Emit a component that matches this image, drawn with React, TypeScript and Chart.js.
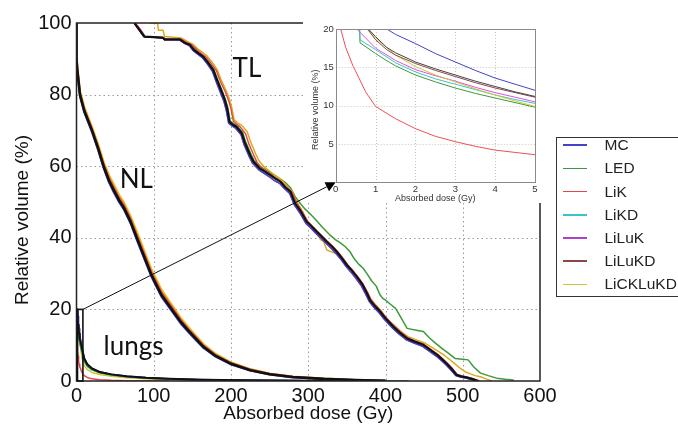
import React, { useEffect, useRef } from "react";
import { Chart, registerables } from "chart.js";
Chart.register(...registerables);

type P = [number, number];

// ---------- axes ----------
const X_TICKS = [0, 100, 200, 300, 400, 500, 600];
const Y_TICKS = [0, 20, 40, 60, 80, 100];
const INSET_X_TICKS = [0, 1, 2, 3, 4, 5];
const INSET_Y_TICKS = [5, 10, 15, 20];
const ZOOM_BOX: P = [7, 20]; // zoomed region: 0..7 Gy, 0..20 %

// ---------- legend ----------
const METHODS = ["MC", "LED", "LiK", "LiKD", "LiLuK", "LiLuKD", "LiCKLuKD"];
const COLORS = ["#4343c8", "#3c9a3c", "#e04848", "#3cc4c4", "#b040c8", "#8c4848", "#cfc63a"];
const REF_COLOR = "#111111";
const TL_GOLD = "#e0a81c";

// ---------- TL (tumour) ----------
const TL_REF: P[] = [[75,100],[80,98.5],[88,96.2],[112,95.9],[114,95.4],[134,95.4],[140,94.5],[147,93.9],[152,92.5],[158,91.5],[164,90.6],[170,89],[177,86.9],[182,84],[188,80.8],[192,78.5],[195,76.2],[198,72.4],[203,71.5],[207,71],[214,69.2],[218,66.5],[221,65],[225,63],[229,61.3],[237,59.4],[244,58.5],[251,57.5],[257,56.6],[264,55.7],[270,54.2],[277,52.9],[283,49.6],[290,47.5],[298,44.5],[304,43.3],[311,41.7],[318,40.2],[324,38.9],[331,37.5],[337,36.1],[344,34.2],[350,32.4],[357,30.7],[363,29.1],[370,27],[376,24.5],[380,22.6],[386,21],[393,19.4],[400,17.5],[410,15.2],[418,13.6],[428,11.9],[438,11],[449,10.1],[458,8.7],[467,7.3],[473,6.1],[479,4.9],[486,3.3],[492,1.7],[498,1.3],[505,1],[512,0.6],[520,0]];
const TL_MC: P[] = [[75,100],[80,98.4],[87,96.2],[112,95.8],[114,95.3],[133,95.3],[140,94.3],[146,93.7],[151,92.3],[157,91.3],[163,90.3],[169,88.7],[176,86.5],[181,83.5],[187,80.2],[191,78],[194,75.5],[197,72],[202,71.2],[206,70.6],[213,68.8],[217,66],[220,64.5],[224,62.5],[228,60.8],[236,59],[243,58],[250,57],[256,56],[263,55.2],[269,53.8],[276,52.4],[282,49.2],[289,47],[297,44],[303,42.8],[310,41.2],[317,39.8],[323,38.5],[330,37],[336,35.6],[343,33.8],[349,32],[356,30.2],[362,28.6],[369,26.5],[375,24],[379,22.2],[385,20.6],[392,19],[399,17.1],[409,14.8],[417,13.2],[427,11.5],[437,10.6],[448,9.7],[457,8.3],[466,6.9],[472,5.8],[478,4.6],[485,3],[491,1.5],[497,1.1],[504,0.8],[511,0.4],[518,0]];
const TL_LIK: P[] = [[76,100],[82,98.5],[89,96.2],[113,95.9],[115,95.4],[136,95.4],[143,94.5],[150,93.8],[156,92.5],[162,91.4],[168,90.4],[174,88.8],[181,86.7],[186,83.8],[193,80.6],[197,78.3],[200,76],[203,72.6],[208,71.6],[212,71],[219,69],[223,66.3],[226,64.8],[230,62.8],[234,61],[241,59.2],[248,58.2],[254,57.3],[260,56.4],[266,55.5],[272,54],[279,52.7],[285,49.8],[292,47.4],[299,44.7],[305,43.3],[312,41.8],[319,40.3],[325,39],[332,37.6],[338,36.2],[345,34.3],[351,32.5],[358,30.8],[364,29.2],[371,27.1],[377,24.7],[381,22.8],[387,21.2],[394,19.6],[401,17.7],[411,15.4],[419,13.8],[429,12.1],[439,11.1],[450,10.2],[459,8.8],[468,7.4],[474,6.2],[480,5],[487,3.4],[493,1.8],[499,1.4],[506,1.1],[514,0.6],[522,0]];
const TL_LICKLUKD: P[] = [[95,100],[105,100],[106,98],[112,98],[114,96.2],[136,95.8],[144,94.8],[151,94],[157,92.8],[163,91.8],[169,90.8],[175,89.2],[182,87],[187,84.2],[194,81],[198,78.7],[201,76.4],[204,73],[209,72],[214,71.4],[221,69.6],[225,67],[228,65.5],[232,63.4],[236,61.6],[243,59.8],[249,58.8],[255,57.8],[261,56.9],[267,55.9],[273,54.3],[279,53],[285,50],[292,47.6],[299,44.6],[305,43],[311,41.2],[316,39.5],[320,38.9],[324,36.6],[331,36],[338,35.4],[344,34],[350,32.6],[357,30.8],[363,29.2],[370,27],[376,24.7],[381,22.9],[387,21.3],[394,19.7],[401,17.4],[411,15.6],[419,14],[429,12.4],[440,11.5],[451,10.6],[460,9.4],[469,8.2],[476,7.2],[483,6],[490,4.8],[497,3.5],[503,2.6],[510,2],[516,1.5],[523,1.2],[530,0.6],[538,0]];
const TL_LED: P[] = [[75,100],[80,98.5],[88,96.2],[112,95.9],[114,95.4],[134,95.4],[140,94.3],[147,93.6],[153,92.8],[159,91.6],[165,90.6],[171,89],[178,86.9],[183,84],[189,80.8],[193,78.5],[196,76.2],[199,72.6],[204,71.8],[208,71.2],[215,69.5],[219,66.8],[222,65.3],[226,63.3],[230,61.6],[238,59.8],[245,59],[252,58],[258,57.2],[264,56.4],[270,55.5],[277,54],[283,51.5],[290,49.5],[296,48],[302,46.8],[310,45],[318,43],[328,40.8],[335,39.5],[342,38.5],[348,37.5],[354,36.1],[360,34],[366,32.5],[371,31.5],[376,30],[382,28],[388,26.5],[393,24],[397,23],[400,22.6],[406,21.5],[413,20.3],[418,18.5],[423,16.6],[428,14.7],[440,14.2],[449,13.8],[457,12],[465,10.5],[473,9.1],[480,8],[490,6.3],[500,6.1],[507,5.9],[514,4],[523,2.2],[533,1.5],[544,0.8],[555,0.5],[565,0.3],[566,0]];

// ---------- NL (normal liver) ----------
const NL_DOSE = [0,0,1,2.5,4.5,10,20,28,35,42,48,55,61,70,78,88,97,110,125,135,145,155,164,180,199,225,250,280,320,360,400];
const NL_REF = [100,90,87,84,80,75.5,70,65,60,56,53.4,50.5,48.5,44.5,40,34.5,29.6,24,19.5,16.5,14,11.7,9.6,7,4.9,3,1.9,1.1,0.6,0.3,0.05];
const NL_LIK = [100,90.5,87.5,84.5,80.5,76,70.5,65.5,60.7,56.8,54.2,51.3,49.3,45.3,40.9,35.4,30.4,24.8,20.2,17.1,14.5,12.2,10,7.3,5.1,3.2,2,1.2,0.6,0.3,0.05];
const NL_LICKLUKD = [100,91,88,85,81,76.6,71,66.2,61.3,57.5,55,52,50,46,41.8,36.2,31.2,25.5,20.8,17.6,15,12.6,10.4,7.6,5.3,3.3,2.1,1.2,0.7,0.3,0.05];
const NL_MC = [100,89.5,86.5,83.5,79.5,75,69.5,64.5,59.5,55.5,52.8,50,48,44,39.4,34,29.1,23.5,19,16,13.6,11.3,9.3,6.8,4.7,2.9,1.8,1,0.5,0.25,0.05];

// ---------- lungs (also shown in the inset) ----------
const LUNG_REF: P[] = [[0.82,20],[1,19],[1.28,17.6],[1.5,16.9],[2,15.7],[2.5,14.8],[3,14],[3.5,13.2],[4,12.5],[4.5,11.8],[5,11.2],[7,9.2],[10,6.3],[14,4.6],[20,3.5],[30,2.5],[45,1.85],[65,1.3],[90,0.9],[120,0.6],[160,0.38],[220,0.18],[300,0.07],[400,0]];
const LUNG_MC: P[] = [[1.28,20],[1.5,19.3],[2,18.1],[2.5,16.8],[3,15.7],[3.5,14.6],[4,13.6],[4.5,12.8],[5,12],[7,9.5],[10,6.5],[14,4.8],[20,3.6],[30,2.6],[45,1.9],[65,1.35],[90,0.95],[120,0.65],[160,0.4],[220,0.2],[300,0.08],[400,0]];
const LUNG_LED: P[] = [[0.6,20],[0.61,18.2],[1,16.8],[1.24,16],[1.5,15.2],[2,14],[2.5,13.1],[3,12.3],[3.5,11.6],[4,11],[4.5,10.4],[5,9.8],[7,8],[10,5.5],[14,4.1],[20,3.1],[30,2.3],[45,1.7],[65,1.2],[90,0.8],[120,0.5],[160,0.3],[220,0.14],[300,0.05],[430,0]];
const LUNG_LIK: P[] = [[0.125,20],[0.25,17.6],[0.44,15.1],[0.5,14.5],[0.75,11.8],[1,9.9],[1.5,8.3],[2,7],[2.5,6],[3,5.3],[3.5,4.7],[4,4.2],[4.5,3.9],[5,3.6],[7,2.4],[10,1.5],[14,1],[20,0.6],[30,0.35],[45,0.2],[65,0.1],[90,0.05],[120,0]];
const LUNG_LIKD: P[] = [[0.6,20],[0.61,18.6],[1,17.3],[1.5,15.6],[2,14.4],[2.5,13.5],[3,12.8],[3.5,12.1],[4,11.4],[4.5,10.8],[5,10.3],[7,8.2],[10,5.6],[14,4.2],[20,3.2],[30,2.35],[45,1.75],[65,1.22],[90,0.82],[120,0.52],[160,0.32],[220,0.15],[300,0.05],[430,0]];
const LUNG_LILUK: P[] = [[0.53,20],[1,17.5],[1.5,15.9],[2,14.7],[2.5,13.9],[3,13.2],[3.5,12.4],[4,11.7],[4.5,11.1],[5,10.5],[7,8.6],[10,5.9],[14,4.4],[20,3.3],[30,2.4],[45,1.8],[65,1.25],[90,0.85],[120,0.55],[160,0.34],[220,0.16],[300,0.06],[400,0]];
const LUNG_LILUKD: P[] = [[0.8,20],[1,18.6],[1.28,17.3],[1.5,16.6],[2,15.5],[2.5,14.6],[3,13.8],[3.5,13],[4,12.3],[4.5,11.7],[5,11.1],[7,8.8],[10,6],[14,4.5],[20,3.4],[30,2.45],[45,1.8],[65,1.25],[90,0.85],[120,0.55],[160,0.35],[220,0.16],[300,0.06],[400,0]];
const LUNG_LICKLUKD: P[] = [[0.78,20],[1,18.8],[1.5,16.6],[2,15.1],[2.5,14],[3,13.1],[3.5,12.2],[4,11.4],[4.5,10.6],[5,9.9],[7,6.5],[10,4.3],[14,3.2],[20,2.4],[30,1.8],[45,1.3],[65,0.9],[90,0.6],[120,0.35],[160,0.2],[220,0.08],[300,0.02],[400,0]];

// ---------- annotations (text, anchored in data units) ----------
const STRUCTURE_LABELS = ["TL", "NL", "lungs"];
const STRUCTURE_LABEL_AT: P[] = [[202, 85], [56, 54], [35, 7.3]];

const FONT = "'Liberation Sans', Arial, Helvetica, sans-serif";
const LABEL_FONT = "Lato, 'Open Sans', sans-serif";

const W = 678, H = 428;
const INSET_BOX = { left: 303, top: 0, width: 248, height: 203 };

const pts = (p: P[]) => p.map(([x, y]) => ({ x, y }));
const zip = (xs: number[], ys: number[]) => xs.map((x, i) => ({ x, y: ys[i] }));

function ds(data: { x: number; y: number }[], color: string, width: number) {
  return { data, borderColor: color, borderWidth: width, pointRadius: 0, fill: false, tension: 0, borderJoinStyle: "round" as const };
}

const mainDecor = {
  id: "mainDecor",
  beforeDatasetsDraw(chart: any) {
    const { ctx, chartArea: a, scales } = chart;
    const x = scales.x, y = scales.y;
    ctx.save();
    ctx.strokeStyle = "#9a9a9a";
    ctx.lineWidth = 1;
    ctx.setLineDash([1.5, 3]);
    X_TICKS.slice(1, -1).forEach((v) => {
      const p = Math.round(x.getPixelForValue(v)) + 0.5;
      ctx.beginPath(); ctx.moveTo(p, a.top); ctx.lineTo(p, a.bottom); ctx.stroke();
    });
    Y_TICKS.slice(1, -1).forEach((v) => {
      const p = Math.round(y.getPixelForValue(v)) + 0.5;
      ctx.beginPath(); ctx.moveTo(a.left, p); ctx.lineTo(a.right, p); ctx.stroke();
    });
    ctx.restore();
  },
  afterDatasetsDraw(chart: any) {
    const { ctx, chartArea: a, scales } = chart;
    const x = scales.x, y = scales.y;
    ctx.save();
    ctx.setLineDash([]);
    ctx.strokeStyle = "#222";
    ctx.lineWidth = 1.5;
    ctx.strokeRect(a.left, a.top, a.right - a.left, a.bottom - a.top);
    // zoom box
    const bx0 = x.getPixelForValue(0), bx1 = x.getPixelForValue(ZOOM_BOX[0]);
    const by0 = y.getPixelForValue(0), by1 = y.getPixelForValue(ZOOM_BOX[1]);
    ctx.strokeStyle = "#111";
    ctx.lineWidth = 1.6;
    ctx.strokeRect(bx0 + 1, by1, bx1 - bx0, by0 - by1);
    // structure labels
    ctx.fillStyle = "#111";
    ctx.font = `26px ${LABEL_FONT}`;
    ctx.textAlign = "left";
    ctx.textBaseline = "alphabetic";
    STRUCTURE_LABELS.forEach((t, i) => {
      ctx.fillText(t, x.getPixelForValue(STRUCTURE_LABEL_AT[i][0]), y.getPixelForValue(STRUCTURE_LABEL_AT[i][1]));
    });
    // axis titles
    ctx.font = `19px ${FONT}`;
    ctx.textAlign = "center";
    ctx.textBaseline = "middle";
    ctx.fillText("Absorbed dose (Gy)", (a.left + a.right) / 2, a.bottom + 33);
    ctx.translate(22.5, (a.top + a.bottom) / 2 + 18);
    ctx.rotate(-Math.PI / 2);
    ctx.fillText("Relative volume (%)", 0, 0);
    ctx.restore();
  },
};

const insetDecor = {
  id: "insetDecor",
  beforeDraw(chart: any) {
    const { ctx, width, height } = chart;
    ctx.save();
    ctx.fillStyle = "#fff";
    ctx.fillRect(0, 0, width, height);
    ctx.restore();
  },
  beforeDatasetsDraw(chart: any) {
    const { ctx, chartArea: a, scales } = chart;
    const x = scales.x, y = scales.y;
    ctx.save();
    ctx.strokeStyle = "#c4c4c4";
    ctx.lineWidth = 1;
    ctx.setLineDash([1, 2]);
    INSET_X_TICKS.slice(1, -1).forEach((v) => {
      const p = Math.round(x.getPixelForValue(v)) + 0.5;
      ctx.beginPath(); ctx.moveTo(p, a.top); ctx.lineTo(p, a.bottom); ctx.stroke();
    });
    INSET_Y_TICKS.slice(0, -1).forEach((v) => {
      const p = Math.round(y.getPixelForValue(v)) + 0.5;
      ctx.beginPath(); ctx.moveTo(a.left, p); ctx.lineTo(a.right, p); ctx.stroke();
    });
    ctx.restore();
  },
  afterDatasetsDraw(chart: any) {
    const { ctx, chartArea: a } = chart;
    ctx.save();
    ctx.strokeStyle = "#8a8a8a";
    ctx.lineWidth = 1;
    ctx.strokeRect(Math.round(a.left) + 0.5, Math.round(a.top) + 0.5, Math.round(a.right - a.left), Math.round(a.bottom - a.top));
    ctx.fillStyle = "#333";
    ctx.font = `9px ${FONT}`;
    ctx.textAlign = "center";
    ctx.textBaseline = "middle";
    ctx.fillText("Absorbed dose (Gy)", (a.left + a.right) / 2, a.bottom + 16.5);
    ctx.translate(13, (a.top + a.bottom) / 2 + 4);
    ctx.rotate(-Math.PI / 2);
    ctx.fillText("Relative volume (%)", 0, 0);
    ctx.restore();
  },
};

export default function App() {
  const mainRef = useRef<HTMLCanvasElement>(null);
  const insetRef = useRef<HTMLCanvasElement>(null);
  const overRef = useRef<HTMLCanvasElement>(null);

  useEffect(() => {
    const lungSets = [LUNG_MC, LUNG_LED, LUNG_LIK, LUNG_LIKD, LUNG_LILUK, LUNG_LILUKD, LUNG_LICKLUKD];

    const mainDatasets: any[] = [
      ds(pts(TL_REF), REF_COLOR, 2.2),
      ds(pts(TL_MC), COLORS[0], 1.5),
      ds(pts(TL_MC), COLORS[4], 1.3),
      ds(pts(TL_LIK), COLORS[2], 1.4),
      ds(pts(TL_LICKLUKD), TL_GOLD, 1.5),
      ds(pts(TL_LED), COLORS[1], 1.5),
      ds(zip(NL_DOSE, NL_REF), REF_COLOR, 2.6),
      ds(zip(NL_DOSE, NL_MC), COLORS[0], 2),
      ds(zip(NL_DOSE, NL_LIK), COLORS[2], 2),
      ds(zip(NL_DOSE, NL_LICKLUKD), "#e6c21a", 2.2),
      ds(pts(LUNG_REF), REF_COLOR, 2),
      ...lungSets.map((p, i) => ds(pts(p), COLORS[i], 1.5)),
    ];

    const tickFont = { family: FONT, size: 20 };
    const noGrid = { display: false, drawTicks: false, tickLength: 0 };
    const main = new Chart(mainRef.current!, {
      type: "line",
      data: { datasets: mainDatasets },
      options: {
        animation: false,
        responsive: false,
        maintainAspectRatio: false,
        events: [],
        layout: { padding: { left: 0, right: 138, top: 23, bottom: 0 } },
        plugins: { legend: { display: false }, tooltip: { enabled: false } },
        scales: {
          x: {
            type: "linear", min: 0, max: 600,
            afterBuildTicks: (s: any) => { s.ticks = X_TICKS.map((v) => ({ value: v })); },
            afterFit: (s: any) => { s.height = 47; },
            ticks: { font: tickFont, color: "#111", padding: 3, maxRotation: 0, autoSkip: false },
            grid: noGrid, border: { display: false },
          },
          y: {
            type: "linear", min: 0, max: 100,
            afterBuildTicks: (s: any) => { s.ticks = Y_TICKS.map((v) => ({ value: v })); },
            afterFit: (s: any) => { s.width = 76.5; },
            ticks: { font: tickFont, color: "#111", padding: 5, autoSkip: false },
            grid: noGrid, border: { display: false },
          },
        },
      } as any,
      plugins: [mainDecor],
    });

    const insetDatasets: any[] = [
      ds(pts(LUNG_MC), COLORS[0], 1),
      ds(pts(LUNG_REF), "#444", 1),
      ds(pts(LUNG_LILUKD), COLORS[5], 1),
      ds(pts(LUNG_LICKLUKD), COLORS[6], 1),
      ds(pts(LUNG_LILUK), "#e050e0", 1),
      ds(pts(LUNG_LIKD), COLORS[3], 1),
      ds(pts(LUNG_LED), COLORS[1], 1),
      ds(pts(LUNG_LIK), "#f05050", 1),
    ];
    const insetFont = { family: FONT, size: 9.5 };
    const inset = new Chart(insetRef.current!, {
      type: "line",
      data: { datasets: insetDatasets },
      options: {
        animation: false,
        responsive: false,
        maintainAspectRatio: false,
        events: [],
        layout: { padding: { left: 0, right: 16, top: 29, bottom: 0 } },
        plugins: { legend: { display: false }, tooltip: { enabled: false } },
        scales: {
          x: {
            type: "linear", min: 0, max: 5,
            afterBuildTicks: (s: any) => { s.ticks = INSET_X_TICKS.map((v) => ({ value: v })); },
            afterFit: (s: any) => { s.height = 20.7; },
            ticks: { font: insetFont, color: "#333", padding: 1, maxRotation: 0, autoSkip: false },
            grid: noGrid, border: { display: false },
          },
          y: {
            type: "linear", min: 0, max: 20,
            afterBuildTicks: (s: any) => { s.ticks = INSET_Y_TICKS.map((v) => ({ value: v })); },
            afterFit: (s: any) => { s.width = 32.7; },
            ticks: { font: insetFont, color: "#333", padding: 2, autoSkip: false },
            grid: noGrid, border: { display: false },
          },
        },
      } as any,
      plugins: [insetDecor],
    });

    // connecting arrow from the zoom box to the inset origin
    const oc = overRef.current!.getContext("2d")!;
    oc.clearRect(0, 0, W, H);
    const sx = main.scales.x.getPixelForValue(ZOOM_BOX[0]) + 1;
    const sy = main.scales.y.getPixelForValue(ZOOM_BOX[1]);
    const ex = INSET_BOX.left + inset.scales.x.getPixelForValue(0);
    const ey = INSET_BOX.top + inset.scales.y.getPixelForValue(0);
    const ang = Math.atan2(ey - sy, ex - sx);
    const L = 10, hw = 5;
    const bx = ex - L * Math.cos(ang), by = ey - L * Math.sin(ang);
    oc.strokeStyle = "#111";
    oc.lineWidth = 1;
    oc.beginPath(); oc.moveTo(sx, sy); oc.lineTo(bx, by); oc.stroke();
    oc.fillStyle = "#000";
    oc.beginPath();
    oc.moveTo(ex, ey);
    oc.lineTo(bx + hw * Math.sin(ang), by - hw * Math.cos(ang));
    oc.lineTo(bx - hw * Math.sin(ang), by + hw * Math.cos(ang));
    oc.closePath(); oc.fill();

    return () => { main.destroy(); inset.destroy(); };
  }, []);

  return (
    <div style={{ position: "absolute", left: 0, top: 0, width: W, height: H, overflow: "hidden", background: "#fff" }}>
      <canvas ref={mainRef} width={W} height={H} style={{ position: "absolute", left: 0, top: 0, width: W, height: H }} />
      <div style={{ position: "absolute", left: INSET_BOX.left, top: INSET_BOX.top, width: INSET_BOX.width, height: INSET_BOX.height, background: "#fff" }}>
        <canvas ref={insetRef} width={INSET_BOX.width} height={INSET_BOX.height} style={{ width: INSET_BOX.width, height: INSET_BOX.height, display: "block" }} />
      </div>
      <canvas ref={overRef} width={W} height={H} style={{ position: "absolute", left: 0, top: 0, width: W, height: H, pointerEvents: "none" }} />
      <div style={{ position: "absolute", left: 556, top: 137, width: 140, height: 160, border: "1.5px solid #333", background: "#fff", boxSizing: "border-box", fontFamily: FONT, fontSize: 15.5, color: "#222" }}>
        {METHODS.map((m, i) => (
          <div key={m} style={{ position: "absolute", left: 5.5, top: 7.2 + i * 23.2 - 10, height: 20, display: "flex", alignItems: "center", whiteSpace: "nowrap" }}>
            <div style={{ width: 24, height: 1.5, background: COLORS[i] }} />
            <span style={{ marginLeft: 18, lineHeight: "20px" }}>{m}</span>
          </div>
        ))}
      </div>
    </div>
  );
}
